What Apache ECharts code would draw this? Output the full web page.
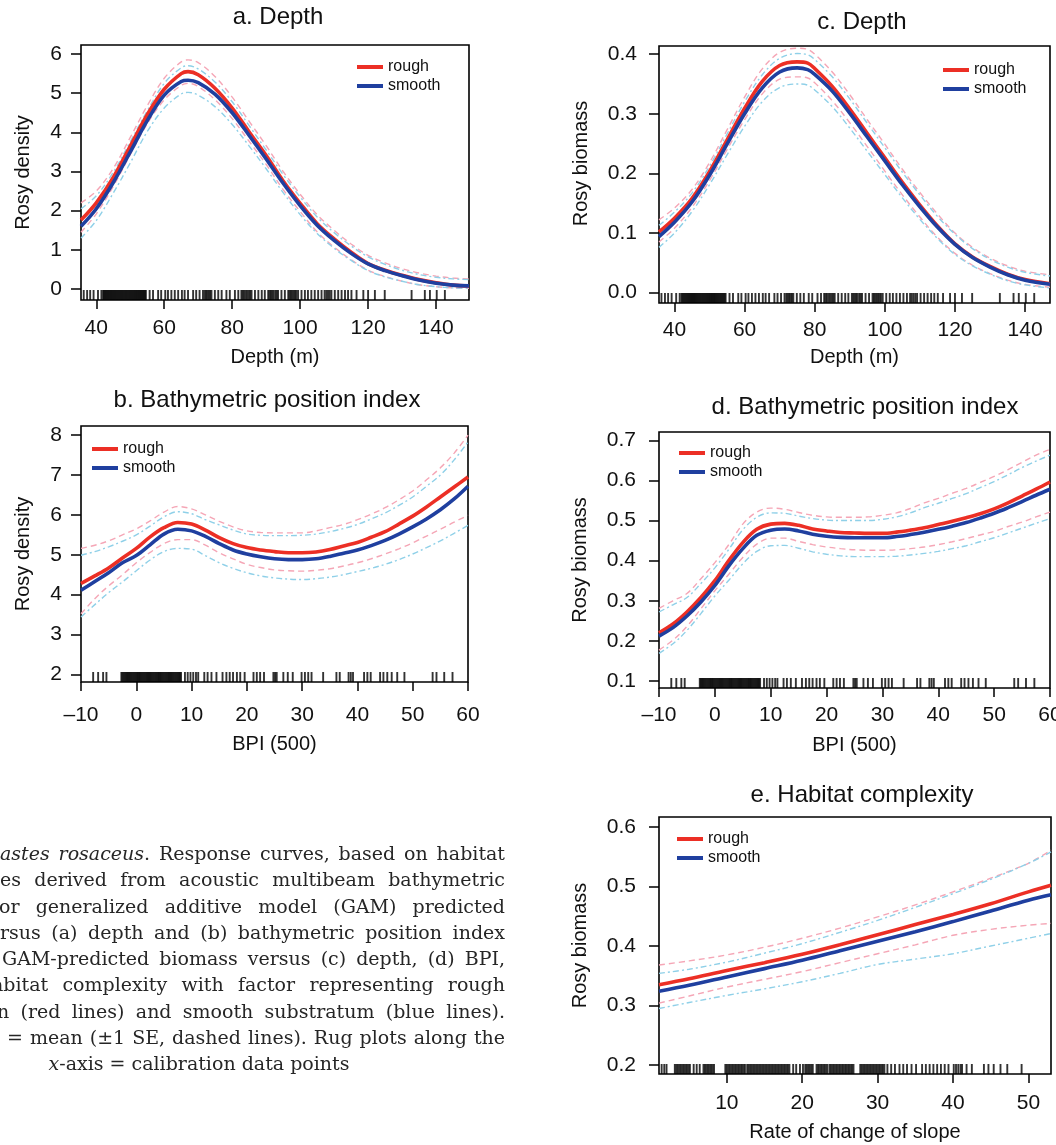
<!DOCTYPE html>
<html>
<head>
<meta charset="utf-8">
<title>Rosy rockfish GAM response curves</title>
<script src="https://cdn.jsdelivr.net/npm/echarts@6/dist/echarts.min.js"></script>
<style>
  html, body { margin: 0; padding: 0; background: #fff; }
  #chart { width: 1056px; height: 1145px; }
</style>
</head>
<body>
<div id="chart"></div>
<script>
// ---------- tick values ----------
const depthTicks = [40, 60, 80, 100, 120, 140];
const bpiTicks = [-10, 0, 10, 20, 30, 40, 50, 60];
const slopeTicks = [10, 20, 30, 40, 50];
const densTicksA = [0, 1, 2, 3, 4, 5, 6];
const densTicksB = [2, 3, 4, 5, 6, 7, 8];
const bioTicksC = [0, 0.1, 0.2, 0.3, 0.4];
const bioTicksD = [0.1, 0.2, 0.3, 0.4, 0.5, 0.6, 0.7];
const bioTicksE = [0.2, 0.3, 0.4, 0.5, 0.6];

// ---------- a. density vs depth ----------
const depthXa = [35.5, 40, 45, 50, 55, 60, 65, 67, 70, 75, 80, 85, 90, 95, 100, 105, 110, 115, 120, 125, 130, 135, 140, 145, 149.7];
const densRoughA = [1.76, 2.2, 2.85, 3.65, 4.45, 5.1, 5.5, 5.55, 5.47, 5.12, 4.62, 4.01, 3.41, 2.76, 2.19, 1.67, 1.28, 0.94, 0.65, 0.48, 0.35, 0.24, 0.16, 0.10, 0.08];
const densSmoothA = [1.6, 2.05, 2.72, 3.5, 4.3, 4.95, 5.3, 5.33, 5.27, 4.97, 4.5, 3.92, 3.32, 2.70, 2.13, 1.63, 1.24, 0.91, 0.64, 0.47, 0.34, 0.23, 0.15, 0.10, 0.08];
const densRoughUpA = [2.2, 2.5, 3.08, 3.87, 4.68, 5.38, 5.8, 5.85, 5.78, 5.42, 4.9, 4.28, 3.66, 3.0, 2.42, 1.9, 1.5, 1.15, 0.86, 0.67, 0.52, 0.41, 0.33, 0.28, 0.26];
const densRoughLoA = [1.45, 1.92, 2.62, 3.43, 4.22, 4.83, 5.2, 5.25, 5.17, 4.83, 4.35, 3.77, 3.18, 2.54, 1.98, 1.46, 1.07, 0.75, 0.48, 0.32, 0.2, 0.11, 0.06, 0.03, 0.02];
const densSmoothUpA = [2.05, 2.38, 2.98, 3.76, 4.55, 5.25, 5.65, 5.7, 5.62, 5.28, 4.78, 4.17, 3.55, 2.92, 2.35, 1.84, 1.44, 1.1, 0.82, 0.63, 0.48, 0.37, 0.3, 0.26, 0.24];
const densSmoothLoA = [1.3, 1.75, 2.45, 3.22, 4.02, 4.62, 4.98, 5.02, 4.95, 4.65, 4.2, 3.65, 3.07, 2.46, 1.9, 1.42, 1.04, 0.73, 0.47, 0.31, 0.2, 0.11, 0.06, 0.03, 0.02];

// ---------- c. biomass vs depth ----------
const depthXc = [35.6, 40, 45, 50, 55, 60, 65, 70, 75, 78, 80, 85, 90, 95, 100, 105, 110, 115, 120, 125, 130, 135, 140, 147.1];
const bioRoughC = [0.102, 0.125, 0.158, 0.203, 0.256, 0.309, 0.354, 0.381, 0.387, 0.385, 0.376, 0.346, 0.308, 0.267, 0.226, 0.185, 0.147, 0.112, 0.082, 0.060, 0.044, 0.031, 0.022, 0.015];
const bioSmoothC = [0.094, 0.118, 0.152, 0.197, 0.249, 0.300, 0.343, 0.370, 0.377, 0.374, 0.366, 0.338, 0.301, 0.261, 0.221, 0.181, 0.144, 0.110, 0.081, 0.059, 0.043, 0.030, 0.021, 0.014];
const bioRoughUpC = [0.122, 0.142, 0.173, 0.218, 0.273, 0.328, 0.375, 0.403, 0.41, 0.408, 0.4, 0.37, 0.332, 0.29, 0.249, 0.207, 0.168, 0.132, 0.1, 0.076, 0.058, 0.045, 0.036, 0.03];
const bioRoughLoC = [0.085, 0.108, 0.143, 0.188, 0.24, 0.29, 0.333, 0.358, 0.362, 0.36, 0.352, 0.322, 0.285, 0.245, 0.204, 0.164, 0.127, 0.093, 0.066, 0.046, 0.032, 0.021, 0.014, 0.009];
const bioSmoothUpC = [0.113, 0.135, 0.167, 0.212, 0.266, 0.32, 0.365, 0.393, 0.401, 0.399, 0.391, 0.362, 0.325, 0.284, 0.243, 0.202, 0.164, 0.128, 0.098, 0.074, 0.056, 0.043, 0.034, 0.028];
const bioSmoothLoC = [0.076, 0.1, 0.136, 0.181, 0.231, 0.279, 0.32, 0.344, 0.35, 0.348, 0.34, 0.312, 0.276, 0.237, 0.198, 0.159, 0.123, 0.091, 0.064, 0.045, 0.031, 0.02, 0.013, 0.008];

// ---------- b. density vs BPI ----------
const bpiX = [-10, -7.5, -5, -2.5, 0, 2.5, 5, 7.5, 10, 12.5, 15, 17.5, 20, 22.5, 25, 27.5, 30, 32.5, 35, 37.5, 40, 42.5, 45, 47.5, 50, 52.5, 55, 57.5, 60];
const densRoughB = [4.28, 4.47, 4.67, 4.92, 5.16, 5.45, 5.68, 5.81, 5.77, 5.62, 5.43, 5.28, 5.18, 5.12, 5.08, 5.05, 5.05, 5.07, 5.13, 5.22, 5.31, 5.44, 5.58, 5.77, 5.97, 6.2, 6.45, 6.7, 6.95];
const densSmoothB = [4.11, 4.33, 4.55, 4.80, 4.98, 5.25, 5.52, 5.64, 5.6, 5.46, 5.28, 5.12, 5.02, 4.95, 4.9, 4.88, 4.88, 4.9, 4.96, 5.04, 5.12, 5.23, 5.36, 5.52, 5.7, 5.9, 6.13, 6.4, 6.72];
const densRoughUpB = [5.16, 5.24, 5.35, 5.5, 5.65, 5.85, 6.07, 6.21, 6.15, 6.0, 5.84, 5.7, 5.6, 5.56, 5.55, 5.55, 5.55, 5.6, 5.68, 5.76, 5.88, 6.02, 6.18, 6.38, 6.6, 6.88, 7.18, 7.55, 8.0];
const densRoughLoB = [3.52, 3.9, 4.22, 4.5, 4.8, 5.06, 5.28, 5.38, 5.38, 5.24, 5.05, 4.9, 4.76, 4.68, 4.62, 4.6, 4.59, 4.61, 4.65, 4.72, 4.8, 4.9, 5.02, 5.15, 5.3, 5.47, 5.64, 5.82, 5.99];
const densSmoothUpB = [4.99, 5.08, 5.2, 5.34, 5.5, 5.72, 5.95, 6.08, 6.03, 5.88, 5.75, 5.62, 5.52, 5.49, 5.48, 5.48, 5.49, 5.52, 5.58, 5.66, 5.76, 5.9, 6.05, 6.24, 6.45, 6.72, 7.0, 7.38, 7.83];
const densSmoothLoB = [3.44, 3.75, 4.05, 4.32, 4.6, 4.87, 5.08, 5.16, 5.14, 4.98, 4.8, 4.66, 4.55, 4.47, 4.42, 4.39, 4.38, 4.4, 4.44, 4.5, 4.58, 4.66, 4.76, 4.88, 5.02, 5.18, 5.35, 5.54, 5.74];

// ---------- d. biomass vs BPI ----------
const bioRoughD = [0.220, 0.242, 0.272, 0.308, 0.350, 0.40, 0.445, 0.478, 0.491, 0.493, 0.488, 0.479, 0.474, 0.47, 0.469, 0.468, 0.468, 0.471, 0.476, 0.482, 0.49, 0.498, 0.507, 0.517, 0.529, 0.544, 0.561, 0.578, 0.596];
const bioSmoothD = [0.212, 0.233, 0.262, 0.297, 0.338, 0.387, 0.430, 0.463, 0.476, 0.479, 0.474, 0.466, 0.461, 0.458, 0.457, 0.457, 0.457, 0.46, 0.465, 0.471, 0.478, 0.486, 0.495, 0.506, 0.518, 0.532, 0.547, 0.563, 0.578];
const bioRoughUpD = [0.281, 0.300, 0.318, 0.355, 0.395, 0.44, 0.491, 0.521, 0.531, 0.528, 0.52, 0.513, 0.509, 0.508, 0.508, 0.509, 0.513, 0.519, 0.53, 0.544, 0.555, 0.568, 0.58, 0.595, 0.61, 0.627, 0.645, 0.663, 0.677];
const bioRoughLoD = [0.177, 0.202, 0.236, 0.28, 0.325, 0.366, 0.408, 0.441, 0.456, 0.456, 0.448, 0.44, 0.434, 0.43, 0.427, 0.426, 0.426, 0.427, 0.43, 0.434, 0.44, 0.447, 0.455, 0.464, 0.473, 0.485, 0.496, 0.509, 0.521];
const bioSmoothUpD = [0.272, 0.29, 0.308, 0.343, 0.382, 0.428, 0.477, 0.508, 0.519, 0.518, 0.511, 0.505, 0.501, 0.5, 0.5, 0.5, 0.503, 0.509, 0.519, 0.532, 0.543, 0.555, 0.567, 0.582, 0.597, 0.614, 0.632, 0.648, 0.663];
const bioSmoothLoD = [0.169, 0.193, 0.226, 0.268, 0.312, 0.351, 0.392, 0.423, 0.437, 0.438, 0.431, 0.422, 0.416, 0.412, 0.41, 0.41, 0.41, 0.411, 0.414, 0.418, 0.423, 0.43, 0.437, 0.447, 0.457, 0.469, 0.481, 0.493, 0.505];

// ---------- e. biomass vs rate of change of slope ----------
const slopeX = [1, 5, 10, 15, 20, 25, 30, 35, 40, 45, 50, 53];
const bioRoughE = [0.335, 0.345, 0.359, 0.372, 0.386, 0.402, 0.419, 0.436, 0.453, 0.471, 0.491, 0.502];
const bioSmoothE = [0.324, 0.334, 0.348, 0.362, 0.376, 0.392, 0.408, 0.424, 0.441, 0.459, 0.477, 0.486];
const bioRoughUpE = [0.368, 0.375, 0.385, 0.398, 0.413, 0.43, 0.449, 0.469, 0.491, 0.514, 0.539, 0.561];
const bioRoughLoE = [0.304, 0.316, 0.331, 0.344, 0.357, 0.372, 0.387, 0.402, 0.418, 0.428, 0.435, 0.438];
const bioSmoothUpE = [0.354, 0.361, 0.373, 0.388, 0.404, 0.423, 0.443, 0.465, 0.488, 0.512, 0.539, 0.558];
const bioSmoothLoE = [0.295, 0.305, 0.317, 0.328, 0.34, 0.354, 0.369, 0.378, 0.387, 0.4, 0.413, 0.421];

// ---------- rug: calibration data points ----------
const depthRug = [36.3, 37.3, 38.2, 39.2, 40.5, 41.5, 42.0, 42.3, 42.6, 42.9, 43.2, 43.5, 43.8, 44.1, 44.4, 44.7, 45.0, 45.3, 45.6, 45.9, 46.2, 46.5, 46.8, 47.1, 47.4, 47.7, 48.0, 48.3, 48.6, 48.9, 49.2, 49.5, 49.8, 50.1, 50.4, 50.7, 51.0, 51.3, 51.6, 51.9, 52.2, 52.5, 52.8, 53.1, 53.4, 53.7, 54.0, 54.3, 54.6, 55.7, 56.7, 58.2, 59.1, 60.3, 61.1, 62.1, 63.1, 64.1, 65.2, 66.0, 67.0, 68.5, 69.4, 70.4, 71.4, 71.9, 72.3, 72.7, 73.1, 73.5, 73.9, 74.9, 75.9, 76.9, 78.3, 79.3, 80.8, 81.8, 82.7, 83.1, 83.5, 84.0, 84.4, 84.9, 85.3, 85.7, 86.7, 87.7, 88.7, 89.6, 90.6, 91.0, 91.4, 91.8, 92.2, 92.7, 93.1, 93.5, 94.5, 95.5, 96.5, 96.9, 97.3, 97.7, 98.1, 98.5, 98.9, 99.4, 100.4, 101.4, 102.3, 103.3, 104.3, 105.3, 106.3, 107.2, 107.7, 108.2, 108.7, 109.2, 110.2, 111.2, 112.2, 113.2, 114.1, 115.1, 116.6, 118.6, 120.0, 122.0, 124.9, 132.8, 136.7, 138.2, 140.2, 142.6];
const bpiRug = [-7.8, -6.9, -6.0, -5.4, -2.7, -2.5, -2.3, -2.1, -1.9, -1.7, -1.5, -1.3, -1.1, -0.9, -0.7, -0.5, -0.3, -0.1, 0.1, 0.3, 0.5, 0.7, 0.9, 1.1, 1.3, 1.5, 1.7, 1.9, 2.1, 2.3, 2.5, 2.7, 2.9, 3.1, 3.3, 3.5, 3.7, 3.9, 4.1, 4.3, 4.5, 4.7, 4.9, 5.1, 5.3, 5.5, 5.7, 5.9, 6.1, 6.3, 6.5, 6.7, 6.9, 7.1, 7.3, 7.5, 7.7, 7.9, 8.1, 8.8, 9.3, 9.8, 10.3, 10.8, 11.2, 12.3, 12.9, 13.6, 14.5, 15.6, 16.3, 16.9, 17.5, 18.2, 18.8, 19.6, 21.2, 21.8, 22.4, 23.1, 24.8, 25.1, 25.4, 26.6, 27.4, 28.3, 29.9, 30.5, 31.1, 31.7, 33.8, 36.2, 36.8, 38.4, 38.8, 39.2, 41.2, 41.8, 42.4, 44.1, 44.7, 45.4, 46.2, 47.2, 48.5, 53.6, 54.3, 55.7, 57.2];
const slopeRug = [1.35, 1.7, 2.0, 3.1, 3.3, 3.5, 3.7, 3.9, 4.1, 4.3, 4.5, 4.7, 4.9, 5.1, 5.6, 6.0, 6.4, 6.9, 7.1, 7.3, 7.5, 7.7, 7.9, 8.1, 8.3, 9.8, 10.0, 10.2, 10.4, 10.6, 10.8, 11.0, 11.2, 11.4, 11.6, 11.8, 12.0, 12.2, 12.4, 12.7, 12.9, 13.1, 13.3, 13.5, 13.7, 13.9, 14.1, 14.3, 14.5, 14.7, 14.9, 15.1, 15.3, 15.5, 15.7, 15.9, 16.1, 16.3, 16.5, 16.7, 16.9, 17.1, 17.3, 17.5, 17.7, 17.9, 18.1, 18.3, 18.8, 19.2, 19.7, 20.1, 20.4, 20.6, 20.8, 21.0, 21.2, 21.4, 21.9, 22.1, 22.3, 22.5, 22.7, 22.9, 23.1, 23.3, 23.6, 23.8, 24.0, 24.2, 24.4, 24.6, 24.8, 25.0, 25.2, 25.4, 25.6, 25.8, 26.0, 26.2, 26.4, 26.6, 26.8, 27.7, 27.9, 28.1, 28.3, 28.5, 28.7, 28.9, 29.1, 29.3, 29.5, 29.7, 29.9, 30.1, 30.3, 30.5, 30.7, 30.9, 31.3, 31.8, 32.3, 32.9, 33.4, 33.9, 34.5, 35.1, 35.9, 36.4, 36.9, 37.4, 37.9, 38.4, 38.9, 39.4, 40.1, 40.4, 40.7, 41.0, 41.2, 41.8, 42.5, 44.1, 44.7, 45.4, 46.3, 47.2, 49.1];

// ---------- caption text ----------
const captionLines = [
  '*astes rosaceus*. Response curves, based on habitat',
  'es derived from acoustic multibeam bathymetric',
  'or generalized additive model (GAM) predicted',
  'rsus (a) depth and (b) bathymetric position index',
  'GAM-predicted biomass versus (c) depth, (d) BPI,',
  'abitat complexity with factor representing rough',
  'n (red lines) and smooth substratum (blue lines).',
  '= mean (±1 SE, dashed lines). Rug plots along the',
  '*x*-axis = calibration data points'
];

// ---------- styling ----------
const SANS = '"Liberation Sans", Arial, Helvetica, sans-serif';
const SERIF = '"DejaVu Serif", serif';
const RED = '#ec2f25';
const BLUE = '#1f3f9f';
const PINK = '#f5a6b6';
const SKY = '#8fd0e8';
const CAP_SIZE = 19;
const TICK_SIZE = 21;

const panels = [
  { key: 'a', title: 'a. Depth', tx: 278, ty: 17,
    grid: { left: 81, top: 45, width: 388, height: 255 },
    xMin: 35.5, xMax: 149.7, yMin: -0.28, yMax: 6.23, xTicks: depthTicks, yTicks: densTicksA, yDec: 0,
    xName: 'Depth (m)', xGap: 47, yName: 'Rosy density', yGap: 48, yShift: 0,
    xMargin: 18, yMargin: 19, legend: { left: 357, top: 59 },
    xs: depthXa, rough: densRoughA, smooth: densSmoothA,
    roughUp: densRoughUpA, roughLo: densRoughLoA, smoothUp: densSmoothUpA, smoothLo: densSmoothLoA, rug: depthRug },
  { key: 'c', title: 'c. Depth', tx: 862, ty: 22,
    grid: { left: 659, top: 46, width: 391, height: 257 },
    xMin: 35.6, xMax: 147.1, yMin: -0.0173, yMax: 0.4137, xTicks: depthTicks, yTicks: bioTicksC, yDec: 1,
    xName: 'Depth (m)', xGap: 44, yName: 'Rosy biomass', yGap: 68, yShift: 22,
    xMargin: 17, yMargin: 22, legend: { left: 943, top: 62 },
    xs: depthXc, rough: bioRoughC, smooth: bioSmoothC,
    roughUp: bioRoughUpC, roughLo: bioRoughLoC, smoothUp: bioSmoothUpC, smoothLo: bioSmoothLoC, rug: depthRug },
  { key: 'b', title: 'b. Bathymetric position index', tx: 267, ty: 400,
    grid: { left: 81, top: 426, width: 387, height: 256 },
    xMin: -10, xMax: 60, yMin: 1.81, yMax: 8.23, xTicks: bpiTicks, yTicks: densTicksB, yDec: 0,
    xName: 'BPI (500)', xGap: 52, yName: 'Rosy density', yGap: 48, yShift: 0,
    xMargin: 23, yMargin: 19, legend: { left: 92, top: 441 },
    xs: bpiX, rough: densRoughB, smooth: densSmoothB,
    roughUp: densRoughUpB, roughLo: densRoughLoB, smoothUp: densSmoothUpB, smoothLo: densSmoothLoB, rug: bpiRug },
  { key: 'd', title: 'd. Bathymetric position index', tx: 865, ty: 407,
    grid: { left: 659, top: 432, width: 391, height: 256 },
    xMin: -10, xMax: 60, yMin: 0.0826, yMax: 0.7206, xTicks: bpiTicks, yTicks: bioTicksD, yDec: 1,
    xName: 'BPI (500)', xGap: 47, yName: 'Rosy biomass', yGap: 69, yShift: 0,
    xMargin: 17, yMargin: 23, legend: { left: 679, top: 445 },
    xs: bpiX, rough: bioRoughD, smooth: bioSmoothD,
    roughUp: bioRoughUpD, roughLo: bioRoughLoD, smoothUp: bioSmoothUpD, smoothLo: bioSmoothLoD, rug: bpiRug },
  { key: 'e', title: 'e. Habitat complexity', tx: 862, ty: 795,
    grid: { left: 659, top: 817, width: 392, height: 257 },
    xMin: 1, xMax: 53, yMin: 0.1849, yMax: 0.6168, xTicks: slopeTicks, yTicks: bioTicksE, yDec: 1,
    xName: 'Rate of change of slope', xGap: 48, yName: 'Rosy biomass', yGap: 69, yShift: 0,
    xMargin: 19, yMargin: 23, legend: { left: 677, top: 831 },
    xs: slopeX, rough: bioRoughE, smooth: bioSmoothE,
    roughUp: bioRoughUpE, roughLo: bioRoughLoE, smoothUp: bioSmoothUpE, smoothLo: bioSmoothLoE, rug: slopeRug }
];

function zip(xs, ys) { return xs.map((x, i) => [x, ys[i]]); }
function fmtNum(v, dec) {
  const s = Math.abs(v).toFixed(dec);
  return v < 0 ? '\u2013' + s : s;
}

const grids = [], xAxes = [], yAxes = [], series = [], legends = [], graphics = [];

panels.forEach((p, i) => {
  grids.push(Object.assign({ show: true, borderColor: '#000', borderWidth: 1.6, backgroundColor: 'transparent', containLabel: false, outerBoundsMode: 'none' }, p.grid));

  xAxes.push({
    gridIndex: i, type: 'value', min: p.xMin, max: p.xMax, position: 'bottom',
    name: p.xName, nameLocation: 'middle', nameGap: p.xGap,
    nameTextStyle: { fontFamily: SANS, fontSize: 20, color: '#111' },
    axisLine: { show: false, onZero: false },
    axisTick: { show: true, inside: false, length: 9, customValues: p.xTicks, lineStyle: { color: '#000', width: 1.5 } },
    axisLabel: { customValues: p.xTicks, margin: p.xMargin, fontFamily: SANS, fontSize: TICK_SIZE, lineHeight: 20, color: '#111',
      formatter: v => fmtNum(v, 0) },
    splitLine: { show: false }
  });

  yAxes.push({
    gridIndex: i, type: 'value', min: p.yMin, max: p.yMax, position: 'left',
    name: p.yName, nameLocation: 'middle', nameGap: p.yGap,
    nameTextStyle: { fontFamily: SANS, fontSize: 20, color: '#111', padding: [0, 0, 0, p.yShift] },
    axisLine: { show: false, onZero: false },
    axisTick: { show: true, inside: false, length: 10, customValues: p.yTicks, lineStyle: { color: '#000', width: 1.5 } },
    axisLabel: { customValues: p.yTicks, margin: p.yMargin, fontFamily: SANS, fontSize: TICK_SIZE, color: '#111',
      formatter: v => fmtNum(v, p.yDec) },
    splitLine: { show: false }
  });

  const seStyle = (color, dash) => ({ color: color, width: 1.4, type: dash });
  const base = { type: 'line', xAxisIndex: i, yAxisIndex: i, symbol: 'none', showSymbol: false, smooth: 0.35, silent: true };

  // standard-error envelopes
  series.push(Object.assign({}, base, { name: 'rough +1 SE', z: 2, data: zip(p.xs, p.roughUp), lineStyle: seStyle(PINK, [6, 4]), itemStyle: { color: PINK } }));
  series.push(Object.assign({}, base, { name: 'rough -1 SE', z: 2, data: zip(p.xs, p.roughLo), lineStyle: seStyle(PINK, [6, 4]), itemStyle: { color: PINK } }));
  series.push(Object.assign({}, base, { name: 'smooth +1 SE', z: 2, data: zip(p.xs, p.smoothUp), lineStyle: seStyle(SKY, [6, 3, 2, 3]), itemStyle: { color: SKY } }));
  series.push(Object.assign({}, base, { name: 'smooth -1 SE', z: 2, data: zip(p.xs, p.smoothLo), lineStyle: seStyle(SKY, [6, 3, 2, 3]), itemStyle: { color: SKY } }));

  // fitted means
  series.push(Object.assign({}, base, { name: 'rough', z: 4, data: zip(p.xs, p.rough), lineStyle: { color: RED, width: 3.6 }, itemStyle: { color: RED } }));
  series.push(Object.assign({}, base, { name: 'smooth', z: 5, data: zip(p.xs, p.smooth), lineStyle: { color: BLUE, width: 3.6 }, itemStyle: { color: BLUE } }));

  // rug of calibration points along the x-axis
  series.push({
    type: 'scatter', name: 'calibration', xAxisIndex: i, yAxisIndex: i, silent: true, clip: false, z: 3,
    symbol: 'rect', symbolSize: [1.9, 10], symbolOffset: [0, -5],
    itemStyle: { color: '#000' },
    data: p.rug.map(v => [v, p.yMin])
  });

  legends.push({
    data: ['rough', 'smooth'], orient: 'vertical', left: p.legend.left, top: p.legend.top,
    padding: 0, itemGap: 3, itemWidth: 26, itemHeight: 4, icon: 'rect', selectedMode: false,
    textStyle: { fontFamily: SANS, fontSize: 16, lineHeight: 16, color: '#111' }
  });

  graphics.push({
    type: 'text', x: p.tx, y: p.ty, silent: true,
    style: { text: p.title, fontFamily: SANS, fontSize: 24, fill: '#111', align: 'center', verticalAlign: 'middle' }
  });
});

// ---------- justified caption, laid out word by word ----------
const captionLayout = [
  { left: 0, right: 505, y: 855 },
  { left: 0, right: 505, y: 881.5 },
  { left: -1, right: 505, y: 908 },
  { left: 0, right: 505, y: 934 },
  { left: 2, right: 505, y: 960 },
  { left: -8, right: 505, y: 986.5 },
  { left: -3, right: 505, y: 1013 },
  { left: 7, right: 505, y: 1039 },
  { center: 199, y: 1065 }
];
const mctx = document.createElement('canvas').getContext('2d');
function measure(txt, italic) {
  mctx.font = (italic ? 'italic ' : '') + CAP_SIZE + 'px ' + SERIF;
  return mctx.measureText(txt).width;
}
let italicOn = false;
captionLines.forEach((line, li) => {
  const spec = captionLayout[li];
  const words = line.split(' ').map(w => {
    const segs = [];
    let buf = '';
    for (const ch of w) {
      if (ch === '*') { if (buf) segs.push({ t: buf, it: italicOn }); buf = ''; italicOn = !italicOn; }
      else buf += ch;
    }
    if (buf) segs.push({ t: buf, it: italicOn });
    segs.forEach(s => { s.w = measure(s.t, s.it); });
    return { segs: segs, w: segs.reduce((a, s) => a + s.w, 0) };
  });
  const total = words.reduce((a, w) => a + w.w, 0);
  let x, gap;
  if (spec.center != null) {
    gap = measure(' ', false);
    x = spec.center - (total + gap * (words.length - 1)) / 2;
  } else {
    x = spec.left;
    gap = (spec.right - spec.left - total) / (words.length - 1);
  }
  words.forEach(w => {
    w.segs.forEach(s => {
      graphics.push({
        type: 'text', x: x, y: spec.y, silent: true,
        style: { text: s.t, fontFamily: SERIF, fontSize: CAP_SIZE, fontStyle: s.it ? 'italic' : 'normal',
          fill: '#262626', align: 'left', verticalAlign: 'middle' }
      });
      x += s.w;
    });
    x += gap;
  });
});

const chart = echarts.init(document.getElementById('chart'), null, { renderer: 'canvas' });
chart.setOption({
  animation: false,
  backgroundColor: '#fff',
  grid: grids,
  xAxis: xAxes,
  yAxis: yAxes,
  legend: legends,
  series: series,
  graphic: graphics
});
</script>
</body>
</html>
